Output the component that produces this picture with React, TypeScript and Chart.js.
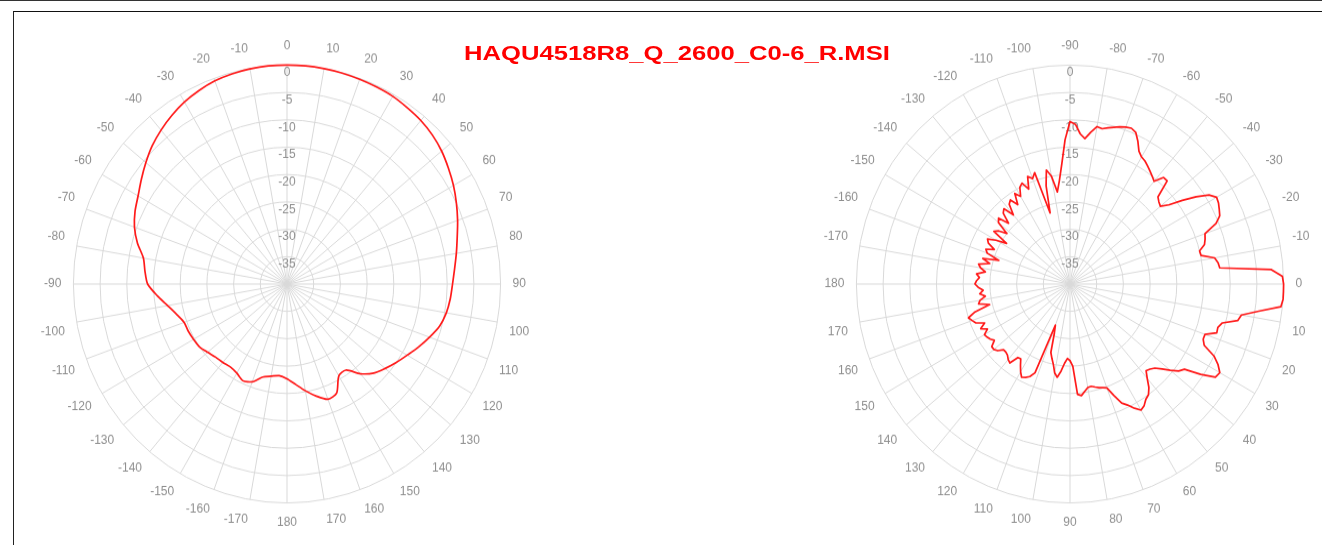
import { useEffect, useRef } from 'react';
import { Chart, registerables } from 'chart.js';

Chart.register(...registerables);

const TITLE = 'HAQU4518R8_Q_2600_C0-6_R.MSI';

const R_MIN = -40;
const R_MAX = 0;
const R_STEP = 5;

// Horizontal pattern: angles clockwise from the top, 5 degree steps
const H_ANGLES = [
  0, 5, 10, 15, 20, 25, 30, 35, 40, 45, 50, 55, 60, 65, 70, 75, 80, 85, 90,
  95, 100, 105, 110, 115, 120, 125, 130, 135, 140, 145, 150, 155, 160, 165, 170, 175, 180,
  -175, -170, -165, -160, -155, -150, -145, -140, -135, -130, -125, -120, -115, -110, -105, -100,
  -95, -90, -85, -80, -75, -70, -65, -60, -55, -50, -45, -40, -35, -30, -25, -20, -15, -10, -5,
];
const H_VALUES = [
  0, 0, -0.05, -0.1, -0.2, -0.3, -0.4, -0.7, -1.0, -1.5, -2.2, -3.1, -4.0, -5.0, -6.0, -7.0, -7.8, -8.5, -9.0,
  -9.3, -9.7, -10.4, -11.6, -12.8, -14.0, -15.0, -16.0, -17.0, -18.6, -20.8, -20.6, -18.0, -17.6, -18.8, -20.2, -21.6, -22.7,
  -23.2, -22.9, -22.4, -21.0, -20.5, -21.2, -21.5, -21.3, -21.1, -20.6, -20.0, -19.8, -19.6, -19.5, -18.6, -17.3,
  -15.6, -13.9, -13.3, -12.7, -11.0, -9.6, -8.6, -7.8, -6.7, -5.5, -4.3, -3.3, -2.4, -1.6, -1.0, -0.5, -0.25, -0.1, 0,
];

// Vertical pattern: angles starting at the top (-90) going clockwise, 2 degree steps
const V_ANGLES = Array.from({ length: 180 }, (_, i) => {
  const a = -90 + 2 * i;
  return a > 180 ? a - 360 : a;
});
const V_VALUES = [
  // -90 .. -2
  -10.3, -10.8, -12.5, -13.3, -12.0, -10.8, -11.0, -10.6, -10.2, -9.8,
  -9.5, -9.3, -9.7, -11.0, -12.5, -13.2, -13.5, -14.0, -14.5, -15.0,
  -15.5, -13.8, -13.8, -17.1, -17.6, -17.9, -16.5, -14.0, -11.5, -9.3,
  -8.3, -8.5, -8.9, -9.3, -10.5, -13.1, -13.4, -13.8, -15.0, -14.9,
  -12.5, -12.0, -11.8, -2.2, -0.2,
  // 0 .. 88
  0, 0, 0, -0.3, -4.3, -7.4, -7.9, -10.6, -11.2, -11.1,
  -13.1, -13.1, -12.5, -10.0, -8.6, -7.6, -7.9, -10.5, -13.5, -14.2,
  -15.5, -16.8, -17.9, -18.4, -18.7, -17.5, -16.0, -15.0, -14.6, -13.8,
  -13.4, -14.3, -15.4, -16.2, -18.0, -19.8, -20.1, -20.3, -20.6, -20.9,
  -20.8, -20.2, -19.5, -19.8, -25.0,
  // 90 .. 180
  -26.0, -26.4, -25.5, -24.0, -22.8, -23.5, -25.0, -26.0, -27.0, -30.5,
  -32.0, -22.5, -21.5, -21.0, -20.7, -21.5, -22.5, -23.5, -23.4, -21.7,
  -22.0, -22.5, -22.7, -22.7, -21.8, -21.4, -21.4, -22.5, -22.0, -21.7,
  -21.5, -22.5, -21.4, -22.5, -21.0, -20.5, -20.0, -21.5, -24.5, -22.5,
  -22.9, -24.0, -23.0, -23.7, -22.8, -22.2,
  // -178 .. -92
  -22.5, -23.0, -22.4, -24.0, -23.0, -22.5, -24.5, -23.0, -26.0, -23.5,
  -23.0, -24.5, -23.0, -22.5, -24.0, -26.0, -22.8, -23.5, -25.0, -22.5,
  -22.0, -24.0, -22.0, -21.5, -23.5, -21.5, -21.0, -22.5, -20.5, -21.5,
  -20.0, -19.5, -21.0, -18.8, -19.5, -18.6, -26.5, -21.5, -18.7, -20.0,
  -23.0, -21.0, -18.0, -13.6,
];

const GRID = '#d9d9d9';
const TEXT = '#8f8f8f';
const LINE = '#ff1a1a';
const FONT = "'Liberation Sans', Arial, sans-serif";

const CW = 600;
const CH = 480;

type PolarProps = {
  angles: number[];
  values: number[];
  left: number;
  top: number;
  tension: number;
};

function PolarChart({ angles, values, left, top, tension }: PolarProps) {
  const ref = useRef<HTMLCanvasElement | null>(null);
  useEffect(() => {
    if (!ref.current) return;
    const step = angles.length / 36;
    const chart = new Chart(ref.current, {
      type: 'radar',
      data: {
        labels: angles,
        datasets: [
          {
            data: values,
            borderColor: LINE,
            borderWidth: 1.7,
            pointRadius: 0,
            pointHoverRadius: 0,
            fill: false,
            tension,
            borderJoinStyle: 'round',
          },
        ],
      },
      options: {
        responsive: false,
        animation: false,
        devicePixelRatio: 1,
        events: [],
        plugins: {
          legend: { display: false },
          tooltip: { enabled: false },
          title: { display: false },
        },
        scales: {
          r: {
            min: R_MIN,
            max: R_MAX,
            startAngle: 0,
            ticks: {
              stepSize: R_STEP,
              showLabelBackdrop: false,
              color: TEXT,
              font: { family: FONT, size: 12, lineHeight: 0.62 },
              callback: (v: any) => (Number(v) <= R_MIN ? '' : ['', String(v)]),
            },
            grid: { color: GRID, lineWidth: 1, circular: true },
            angleLines: {
              display: true,
              lineWidth: 1,
              color: (c: any) => (c.index % step === 0 ? GRID : 'rgba(0,0,0,0)'),
            },
            pointLabels: {
              display: true,
              padding: 4,
              color: TEXT,
              font: { family: FONT, size: 12 },
              callback: (label: any) => (Number(label) % 10 === 0 ? String(label) : ''),
            },
          },
        },
      },
    });
    return () => chart.destroy();
  }, [angles, values, tension]);

  return (
    <canvas
      ref={ref}
      width={CW}
      height={CH}
      style={{
        position: 'absolute',
        left: `${left}px`,
        top: `${top}px`,
        width: `${CW}px`,
        height: `${CH}px`,
        transform: 'scaleY(1.025)',
        transformOrigin: '50% 50%',
      }}
    />
  );
}

export default function App() {
  return (
    <div
      style={{
        position: 'fixed',
        left: 0,
        top: 0,
        width: '1322px',
        height: '545px',
        overflow: 'hidden',
        background: '#fff',
      }}
    >
      <div style={{ position: 'absolute', left: 0, top: 0, width: '1322px', height: '1px', background: '#333' }} />
      <div
        style={{
          position: 'absolute',
          left: '13px',
          top: '11px',
          width: '1400px',
          height: '600px',
          borderLeft: '1px solid #222',
          borderTop: '1px solid #111',
        }}
      />
      <PolarChart angles={H_ANGLES} values={H_VALUES} left={-13} top={44} tension={0.25} />
      <PolarChart angles={V_ANGLES} values={V_VALUES} left={770} top={44} tension={0} />
      <div
        style={{
          position: 'absolute',
          left: '477px',
          top: '40px',
          width: '400px',
          textAlign: 'center',
          font: `bold 21px ${FONT}`,
          color: '#ff0000',
          lineHeight: '26px',
          transform: 'scaleX(1.22)',
          transformOrigin: '50% 50%',
          whiteSpace: 'nowrap',
        }}
      >
        {TITLE}
      </div>
    </div>
  );
}
